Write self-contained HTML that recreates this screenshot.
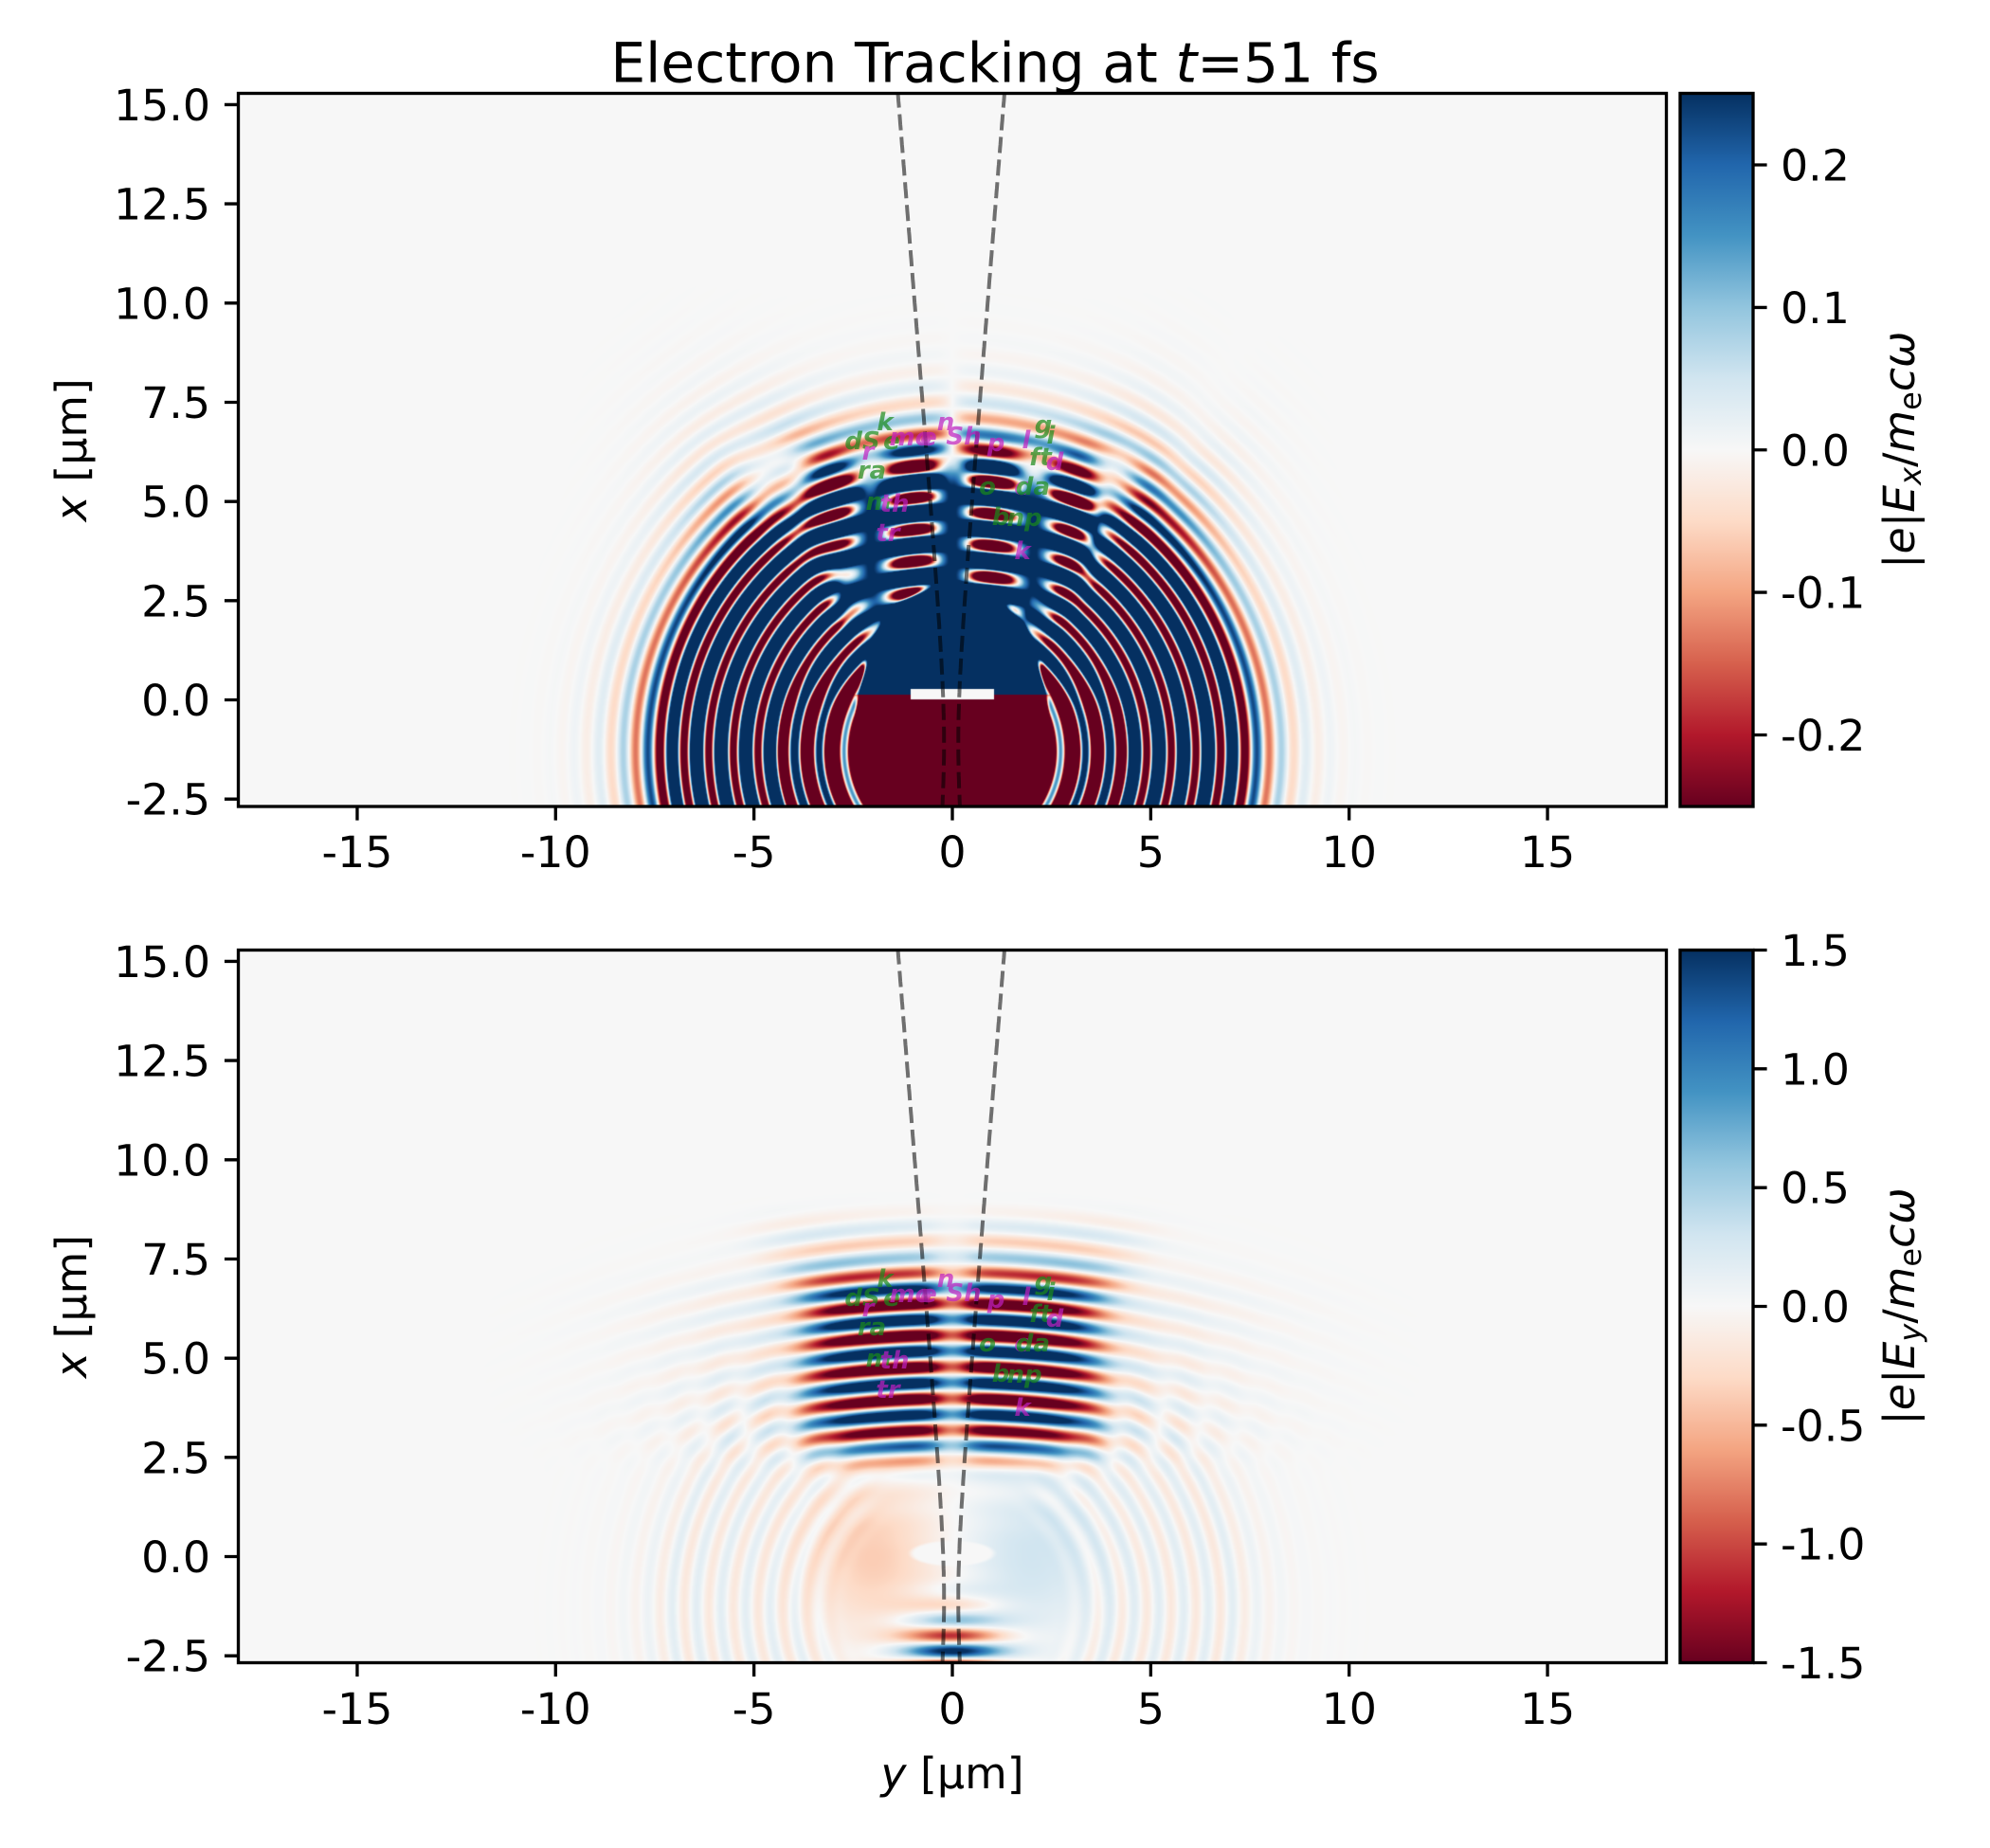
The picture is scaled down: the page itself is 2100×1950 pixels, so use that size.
<!DOCTYPE html>
<html><head><meta charset="utf-8">
<style>
html,body{margin:0;padding:0;background:#fff;}
#wrap{position:relative;width:2100px;height:1950px;overflow:hidden;background:#fff;}
canvas{position:absolute;background:#f7f7f7;}
svg{position:absolute;left:0;top:0;}
</style></head><body>
<div id="wrap">
<canvas id="c1" width="1506" height="752" style="left:252px;top:99px;width:1506px;height:752px"></canvas>
<canvas id="c2" width="1506" height="752" style="left:252px;top:1003px;width:1506px;height:752px"></canvas>
<svg width="2100" height="1950" viewBox="0 0 2100 1950" font-family="'DejaVu Sans','Liberation Sans',sans-serif">
<defs>
<linearGradient id="rdbu" x1="0" y1="1" x2="0" y2="0">
<stop offset="0" stop-color="#67001f"/><stop offset="0.1" stop-color="#b2182b"/><stop offset="0.2" stop-color="#d6604d"/><stop offset="0.3" stop-color="#f4a582"/><stop offset="0.4" stop-color="#fddbc7"/><stop offset="0.5" stop-color="#f7f7f7"/><stop offset="0.6" stop-color="#d1e5f0"/><stop offset="0.7" stop-color="#92c5de"/><stop offset="0.8" stop-color="#4393c3"/><stop offset="0.9" stop-color="#2166ac"/><stop offset="1" stop-color="#053061"/>
</linearGradient>
<clipPath id="clip1"><rect x="251.5" y="98.5" width="1507" height="752.5"/></clipPath>
<clipPath id="clip2"><rect x="251.5" y="1002.5" width="1507" height="752"/></clipPath>
</defs>

<g clip-path="url(#clip1)" fill="none" stroke="#000" stroke-opacity="0.55" stroke-width="4" stroke-dasharray="17 7">
<path id="d1a"/><path id="d1b"/>
</g>
<g clip-path="url(#clip2)" fill="none" stroke="#000" stroke-opacity="0.55" stroke-width="4" stroke-dasharray="17 7">
<path id="d2a"/><path id="d2b"/>
</g>

<g clip-path="url(#clip1)" font-size="26" font-weight="bold" font-style="italic" text-anchor="middle" dominant-baseline="central" opacity="0.7">
<text x="934" y="446" fill="#1a8a1a">k</text>
<text x="910" y="466" fill="#1a8a1a">dS</text>
<text x="916" y="477" fill="#c020c0">r</text>
<text x="941" y="466" fill="#1a8a1a">e</text>
<text x="961" y="462" fill="#c020c0">mo</text>
<text x="980" y="462" fill="#c020c0">e</text>
<text x="998" y="446" fill="#c020c0">n</text>
<text x="1017" y="461" fill="#c020c0">Sh</text>
<text x="1051" y="468" fill="#c020c0">p</text>
<text x="1083" y="465" fill="#c020c0">l</text>
<text x="1101" y="449" fill="#1a8a1a">g</text>
<text x="1109" y="460" fill="#1a8a1a">i</text>
<text x="1098" y="483" fill="#1a8a1a">ft</text>
<text x="1113" y="488" fill="#c020c0">d</text>
<text x="920" y="497" fill="#1a8a1a">ra</text>
<text x="1042" y="514" fill="#1a8a1a">o</text>
<text x="1078" y="514" fill="#c020c0">c</text>
<text x="1090" y="514" fill="#1a8a1a">da</text>
<text x="927" y="530" fill="#1a8a1a">m</text>
<text x="944" y="532" fill="#c020c0">th</text>
<text x="1056" y="546" fill="#1a8a1a">b</text>
<text x="1081" y="547" fill="#1a8a1a">np</text>
<text x="937" y="563" fill="#c020c0">tr</text>
<text x="1079" y="582" fill="#c020c0">k</text>
</g>
<g clip-path="url(#clip2)"><g transform="translate(0 904)" font-size="26" font-weight="bold" font-style="italic" text-anchor="middle" dominant-baseline="central" opacity="0.7">
<text x="934" y="446" fill="#1a8a1a">k</text>
<text x="910" y="466" fill="#1a8a1a">dS</text>
<text x="916" y="477" fill="#c020c0">r</text>
<text x="941" y="466" fill="#1a8a1a">e</text>
<text x="961" y="462" fill="#c020c0">mo</text>
<text x="980" y="462" fill="#c020c0">e</text>
<text x="998" y="446" fill="#c020c0">n</text>
<text x="1017" y="461" fill="#c020c0">Sh</text>
<text x="1051" y="468" fill="#c020c0">p</text>
<text x="1083" y="465" fill="#c020c0">l</text>
<text x="1101" y="449" fill="#1a8a1a">g</text>
<text x="1109" y="460" fill="#1a8a1a">i</text>
<text x="1098" y="483" fill="#1a8a1a">ft</text>
<text x="1113" y="488" fill="#c020c0">d</text>
<text x="920" y="497" fill="#1a8a1a">ra</text>
<text x="1042" y="514" fill="#1a8a1a">o</text>
<text x="1078" y="514" fill="#c020c0">c</text>
<text x="1090" y="514" fill="#1a8a1a">da</text>
<text x="927" y="530" fill="#1a8a1a">m</text>
<text x="944" y="532" fill="#c020c0">th</text>
<text x="1056" y="546" fill="#1a8a1a">b</text>
<text x="1081" y="547" fill="#1a8a1a">np</text>
<text x="937" y="563" fill="#c020c0">tr</text>
<text x="1079" y="582" fill="#c020c0">k</text>
</g></g>

<g fill="none" stroke="#000" stroke-width="3.33">
<rect x="251.5" y="98.5" width="1507" height="752.5"/>
<rect x="251.5" y="1002.5" width="1507" height="752"/>
</g>
<rect x="1773" y="98.5" width="77" height="752.5" fill="url(#rdbu)" stroke="#000" stroke-width="3.33"/>
<rect x="1773" y="1002.5" width="77" height="752" fill="url(#rdbu)" stroke="#000" stroke-width="3.33"/>

<g stroke="#000" stroke-width="3.33">
<path d="M251.5 110.45h-14.6M251.5 215.1h-14.6M251.5 319.8h-14.6M251.5 424.5h-14.6M251.5 529.15h-14.6M251.5 633.8h-14.6M251.5 738.5h-14.6M251.5 843.2h-14.6"/>
<path d="M251.5 1014.45h-14.6M251.5 1119.1h-14.6M251.5 1223.8h-14.6M251.5 1328.5h-14.6M251.5 1433.15h-14.6M251.5 1537.8h-14.6M251.5 1642.5h-14.6M251.5 1747.2h-14.6"/>
<path d="M376.95 851v14.6M586.3 851v14.6M795.65 851v14.6M1005 851v14.6M1214.35 851v14.6M1423.7 851v14.6M1633.05 851v14.6"/>
<path d="M376.95 1754.5v14.6M586.3 1754.5v14.6M795.65 1754.5v14.6M1005 1754.5v14.6M1214.35 1754.5v14.6M1423.7 1754.5v14.6M1633.05 1754.5v14.6"/>
<path d="M1850 174h14.6M1850 324.4h14.6M1850 474.75h14.6M1850 625.1h14.6M1850 775.5h14.6"/>
<path d="M1850 1002.5h14.6M1850 1127.8h14.6M1850 1253.2h14.6M1850 1378.5h14.6M1850 1503.8h14.6M1850 1629.2h14.6M1850 1754.5h14.6"/>
</g>

<g font-size="45.83" fill="#000">
<g text-anchor="end">
<text x="222" y="127">15.0</text><text x="222" y="231.6">12.5</text><text x="222" y="336.3">10.0</text><text x="222" y="441">7.5</text><text x="222" y="545.7">5.0</text><text x="222" y="650.3">2.5</text><text x="222" y="755">0.0</text><text x="222" y="859.7">-2.5</text>
<text x="222" y="1031">15.0</text><text x="222" y="1135.6">12.5</text><text x="222" y="1240.3">10.0</text><text x="222" y="1345">7.5</text><text x="222" y="1449.7">5.0</text><text x="222" y="1554.3">2.5</text><text x="222" y="1659">0.0</text><text x="222" y="1763.7">-2.5</text>
</g>
<g text-anchor="middle">
<text x="376.95" y="915">-15</text><text x="586.3" y="915">-10</text><text x="795.65" y="915">-5</text><text x="1005" y="915">0</text><text x="1214.35" y="915">5</text><text x="1423.7" y="915">10</text><text x="1633.05" y="915">15</text>
<text x="376.95" y="1819">-15</text><text x="586.3" y="1819">-10</text><text x="795.65" y="1819">-5</text><text x="1005" y="1819">0</text><text x="1214.35" y="1819">5</text><text x="1423.7" y="1819">10</text><text x="1633.05" y="1819">15</text>
</g>
<g text-anchor="start">
<text x="1879" y="190.5">0.2</text><text x="1879" y="341">0.1</text><text x="1879" y="491.3">0.0</text><text x="1879" y="641.6">-0.1</text><text x="1879" y="792">-0.2</text>
<text x="1879" y="1019">1.5</text><text x="1879" y="1144.3">1.0</text><text x="1879" y="1269.7">0.5</text><text x="1879" y="1395">0.0</text><text x="1879" y="1520.3">-0.5</text><text x="1879" y="1645.7">-1.0</text><text x="1879" y="1771">-1.5</text>
</g>
<text transform="translate(91 474.75) rotate(-90)" text-anchor="middle"><tspan font-style="italic">x</tspan> [µm]</text>
<text transform="translate(91 1378.5) rotate(-90)" text-anchor="middle"><tspan font-style="italic">x</tspan> [µm]</text>
<text x="1005" y="1887" text-anchor="middle"><tspan font-style="italic">y</tspan> [µm]</text>
<text transform="translate(2020 474.75) rotate(-90)" text-anchor="middle">|<tspan font-style="italic">e</tspan>|<tspan font-style="italic">E</tspan><tspan font-style="italic" font-size="32" dy="7">x</tspan><tspan dy="-7">/</tspan><tspan font-style="italic">m</tspan><tspan font-size="32" dy="7">e</tspan><tspan font-style="italic" dy="-7">cω</tspan></text>
<text transform="translate(2020 1378.5) rotate(-90)" text-anchor="middle">|<tspan font-style="italic">e</tspan>|<tspan font-style="italic">E</tspan><tspan font-style="italic" font-size="32" dy="7">y</tspan><tspan dy="-7">/</tspan><tspan font-style="italic">m</tspan><tspan font-size="32" dy="7">e</tspan><tspan font-style="italic" dy="-7">cω</tspan></text>
<text x="1050" y="86.7" font-size="58.3" text-anchor="middle">Electron Tracking at <tspan font-style="italic">t</tspan>=51 fs</text>
</g>
</svg>
</div>
<script>
(function(){
var TAU=Math.PI*2, S=41.87;
var stops=[[103,0,31],[178,24,43],[214,96,77],[244,165,130],[253,219,199],[247,247,247],[209,229,240],[146,197,222],[67,147,195],[33,102,172],[5,48,97]];
var N=1024, lut=new Uint8Array(N*3);
for(var k=0;k<N;k++){var t=k/(N-1)*10;var i=Math.min(9,Math.floor(t));var f=t-i;for(var c=0;c<3;c++)lut[k*3+c]=Math.round(stops[i][c]+(stops[i+1][c]-stops[i][c])*f);}
function sm(a,b,v){var t=(v-a)/(b-a);t=t<0?0:(t>1?1:t);return t*t*(3-2*t);}

function fEx(y,x){
  var ay=Math.abs(y), dx=x+1.3, R=Math.sqrt(y*y+dx*dx), th=Math.atan2(ay,dx);
  var ws=sm(0.42,0.78,th);
  var L=0.6+0.35*Math.exp(-Math.pow((th-0.65)/0.25,2));
  var Rs=7.05;
  var env=R<Rs?sm(1.8,2.6,R):Math.exp(-(R-Rs)/L);
  var bias=0.26*sm(2.8,3.6,R)*(1-sm(6.6,7.5,R));
  bias-=0.5*sm(1.6,2.1,R)*(1-sm(3.8,4.8,R))*(1-sm(-0.3,1.2,x));
  var ring=0.65*Math.cos(TAU*(R-7.07)/0.62);
  var s=Math.tanh(y/0.3);
  var ph=TAU*(x+0.055*y*y-6.34)/0.8;
  var m=0.5+0.5*Math.cos(TAU*(ay-1.0)/2.1);
  m=m+(1-m)*sm(5.8,6.8,x);
  var lat=-0.95*s*m*Math.cos(ph);
  var v=bias+env*(ws*ring+(1-ws)*lat);
  var ex=0.14, er, vb;
  if(x>=ex){er=Math.sqrt((y/2.3)*(y/2.3)+((x-ex)/2.8)*((x-ex)/2.8));vb=1.2;}
  else{er=Math.sqrt((y/2.4)*(y/2.4)+((x-ex)/4.6)*((x-ex)/4.6));vb=-1.2;}
  var wb=1-sm(0.9,1.04,er);
  v=v*(1-wb)+vb*wb;
  if(ay<1.05&&x>0.0&&x<0.28)v=0;
  return v;
}
function fEy(y,x){
  var ay=Math.abs(y);
  var tail = x>5 ? 0.2*Math.exp(-Math.pow(Math.max(0,x-6.8)/1.6,4)) : 0.2*Math.exp(-Math.pow((x-5)/2.2,2));
  var gx=0.8*Math.exp(-Math.pow((x-4.8)/2.3,6))+tail;
  var wy=3.6+1.2*sm(6,8.5,x);
  var gy=(0.8*Math.exp(-Math.pow(ay/wy,6))+0.2*Math.exp(-Math.pow(ay/5.2,2)))*(1-0.6*Math.exp(-(y*y)/0.3));
  var ph=TAU*(x+0.02*y*y-6.38)/0.8;
  var v=-2.4*gx*gy*Math.cos(ph);
  var gb=Math.exp(-Math.pow((x+2.9)/1.2,2))*Math.exp(-Math.pow(y/1.2,2));
  v+=-2.0*gb*Math.cos(TAU*(x+1.97)/0.8);
  v+=-0.38*Math.exp(-(Math.pow((y+2.0)/1.6,2)+Math.pow(x/1.9,2)));
  v+=0.3*Math.exp(-(Math.pow((y-2.0)/1.6,2)+Math.pow(x/1.9,2)));
  var dx=x+1.3, R=Math.sqrt(y*y+dx*dx), th=Math.atan2(ay,dx);
  var env=R<7.05?sm(2.5,4.0,R):Math.exp(-(R-7.05)/0.9);
  v+=0.16*env*Math.cos(TAU*(R-7.07)/0.62)*sm(0.4,0.9,th);
  var es=Math.sqrt(Math.pow(y/1.1,2)+Math.pow((x-0.08)/0.33,2));
  v*=sm(0.85,1.05,es);
  return v;
}
function render(id,f,vmax,top,x0pix){
  var cv=document.getElementById(id); if(!cv.getContext)return;
  var ctx=cv.getContext('2d'), W=cv.width, H=cv.height;
  var img=ctx.createImageData(W,H), d=img.data, p=0;
  for(var j=0;j<H;j++){
    var x=(x0pix-(top+j+0.5))/S;
    for(var i=0;i<W;i++){
      var y=(252+i+0.5-1005)/S;
      var v=f(y,x);
      var t=(v+vmax)/(2*vmax); t=t<0?0:(t>1?1:t);
      var q=Math.round(t*(N-1))*3;
      d[p++]=lut[q];d[p++]=lut[q+1];d[p++]=lut[q+2];d[p++]=255;
    }
  }
  ctx.putImageData(img,0,0);
}
render('c1',fEx,0.25,99,738.5);
render('c2',fEy,1.5,1003,1642.5);
function dash(idA,idB,x0pix){
  var a='',b='';
  for(var x=-2.8;x<=15.5;x+=0.1){
    var w=Math.sqrt(0.0323+0.0066*(x+1.1)*(x+1.1));
    var py=(x0pix-S*x).toFixed(1);
    var pa=(1005+S*(-w-0.03)).toFixed(1), pb=(1005+S*(w-0.03)).toFixed(1);
    a+=(a?'L':'M')+pa+' '+py; b+=(b?'L':'M')+pb+' '+py;
  }
  document.getElementById(idA).setAttribute('d',a);
  document.getElementById(idB).setAttribute('d',b);
}
dash('d1a','d1b',738.5);
dash('d2a','d2b',1642.5);
})();
</script>
</body></html>
